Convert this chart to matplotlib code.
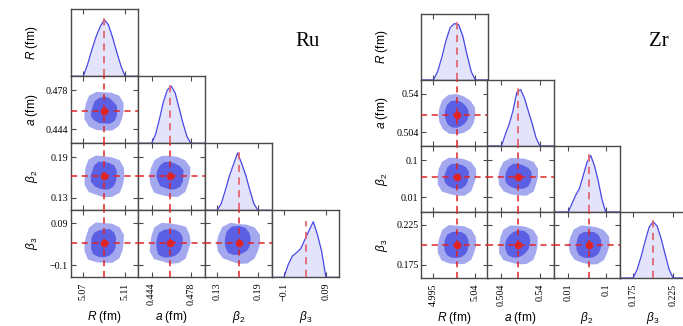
import numpy as np
import matplotlib
matplotlib.use('Agg')
import matplotlib.pyplot as plt

plt.rcParams['mathtext.fontset'] = 'custom'
plt.rcParams['mathtext.rm'] = 'Liberation Sans'
plt.rcParams['mathtext.it'] = 'Liberation Sans:italic'
plt.rcParams['font.family'] = 'Liberation Sans'

W, H = 683, 326

param_labels = [r"$R$ (fm)", r"$a$ (fm)", r"$\beta_2$", r"$\beta_3$"]
pairs = [(1, 0), (2, 0), (2, 1), (3, 0), (3, 1), (3, 2)]

# ---- Ru ----
ru_true = [5.09, 0.46, 0.162, 0.0]
ru_lims = [(5.058, 5.122), (0.432, 0.490), (0.1115, 0.2105), (-0.1555, 0.148)]
ru_ticks = [[5.07, 5.11], [0.444, 0.478], [0.13, 0.19], [-0.1, 0.09]]
ru_ticklabels = [["5.07", "5.11"], ["0.444", "0.478"], ["0.13", "0.19"], ["\u22120.1", "0.09"]]
ru_outer = [0.0185, 0.017, 0.030, 0.090]
ru_inner = [0.013, 0.012, 0.021, 0.062]
ru_marg = [
    [0, 0.20, 0.45, 0.68, 0.86, 0.99, 0.90, 0.68, 0.42, 0.18, 0],
    [0, 0.15, 0.42, 0.72, 0.93, 1.00, 0.88, 0.62, 0.35, 0.12, 0],
    [0, 0.12, 0.35, 0.60, 0.80, 1.00, 0.82, 0.62, 0.36, 0.12, 0],
    [0, 0.22, 0.37, 0.43, 0.50, 0.66, 0.82, 0.97, 0.74, 0.45, 0],
]
ru_shape_outer = [
    [1.00, 1.08, 1.10, 1.00, 0.95, 1.05, 1.10, 1.02, 1.02, 1.10, 1.12, 1.05, 1.00, 1.08, 1.08, 1.00],
    [1.05, 1.10, 1.12, 1.00, 0.98, 1.10, 1.15, 1.05, 1.00, 1.10, 1.12, 1.00, 1.05, 1.10, 1.15, 1.05],
    [1.02, 1.12, 1.10, 1.02, 1.00, 1.08, 1.12, 1.05, 1.05, 1.08, 1.15, 1.02, 1.02, 1.10, 1.10, 1.00],
    [1.00, 1.10, 1.12, 1.05, 1.00, 1.12, 1.10, 1.00, 1.02, 1.10, 1.18, 1.05, 1.00, 1.08, 1.10, 1.02],
    [1.05, 1.08, 1.15, 1.00, 0.98, 1.10, 1.12, 1.02, 1.00, 1.12, 1.15, 1.00, 1.05, 1.10, 1.12, 1.00],
    [1.05, 1.12, 1.10, 1.00, 0.95, 1.10, 1.15, 1.08, 1.10, 1.12, 1.10, 1.00, 1.05, 1.12, 1.10, 1.02],
]
ru_shape_inner = [
    [0.95, 1.00, 0.95, 1.00, 1.05, 1.00, 1.00, 0.90, 0.95, 1.05, 1.00, 0.95, 0.90, 1.00, 1.05, 1.00],
    [0.90, 1.00, 1.05, 1.00, 1.00, 1.10, 1.05, 0.95, 1.00, 1.05, 1.00, 0.95, 0.95, 1.00, 1.00, 0.95],
    [0.95, 1.05, 1.00, 0.95, 1.00, 1.08, 1.05, 1.00, 1.00, 0.95, 1.00, 0.90, 0.95, 1.00, 1.05, 1.00],
    [0.85, 0.95, 1.05, 1.10, 1.00, 1.00, 1.05, 1.00, 0.95, 1.05, 1.15, 1.10, 1.05, 1.00, 0.95, 0.90],
    [0.90, 1.00, 1.05, 1.05, 1.00, 1.05, 1.10, 1.00, 1.00, 1.05, 1.20, 1.15, 1.05, 1.00, 0.95, 0.90],
    [0.80, 0.90, 1.05, 1.20, 1.25, 1.30, 1.20, 1.05, 1.00, 1.00, 1.05, 0.95, 0.85, 0.80, 0.80, 0.80],
]

# ---- Zr ----
zr_true = [5.02, 0.52, 0.06, 0.20]
zr_lims = [(4.982, 5.053), (0.491, 0.553), (-0.025, 0.134), (0.1585, 0.2412)]
zr_ticks = [[4.995, 5.04], [0.504, 0.54], [0.01, 0.1], [0.175, 0.225]]
zr_ticklabels = [["4.995", "5.04"], ["0.504", "0.54"], ["0.01", "0.1"], ["0.175", "0.225"]]
zr_outer = [0.020, 0.018, 0.045, 0.024]
zr_inner = [0.0135, 0.0125, 0.031, 0.0165]
zr_marg = [
    [0, 0.15, 0.40, 0.70, 0.93, 1.00, 0.98, 0.78, 0.45, 0.15, 0],
    [0, 0.20, 0.38, 0.62, 0.95, 1.00, 0.85, 0.62, 0.40, 0.15, 0],
    [0, 0.15, 0.30, 0.42, 0.65, 0.88, 1.00, 0.82, 0.55, 0.22, 0],
    [0, 0.15, 0.38, 0.65, 0.90, 1.00, 0.92, 0.70, 0.42, 0.15, 0],
]
zr_shape_outer = [
    [1.00, 1.05, 1.05, 1.05, 1.10, 1.15, 1.10, 1.00, 0.98, 1.00, 1.05, 1.05, 1.00, 1.00, 1.02, 1.00],
    [1.05, 1.12, 1.10, 1.02, 1.00, 1.10, 1.12, 1.05, 1.02, 1.10, 1.12, 1.00, 1.02, 1.10, 1.10, 1.00],
    [1.02, 1.10, 1.12, 1.02, 1.00, 1.08, 1.12, 1.05, 1.05, 1.10, 1.10, 1.02, 1.00, 1.10, 1.12, 1.00],
    [1.05, 1.10, 1.12, 1.05, 1.00, 1.12, 1.10, 1.00, 1.02, 1.10, 1.15, 1.05, 1.00, 1.08, 1.10, 1.02],
    [1.00, 1.08, 1.10, 1.02, 1.00, 1.10, 1.12, 1.02, 1.00, 1.10, 1.12, 1.00, 1.02, 1.08, 1.10, 1.00],
    [1.10, 1.15, 1.10, 1.00, 0.98, 1.10, 1.15, 1.08, 1.10, 1.10, 1.10, 1.00, 1.02, 1.10, 1.12, 1.05],
]
zr_shape_inner = [
    [0.95, 1.00, 1.00, 1.05, 1.10, 1.15, 1.10, 1.00, 0.95, 0.95, 1.00, 1.00, 0.95, 0.90, 0.90, 0.92],
    [0.95, 1.05, 1.05, 1.00, 1.00, 1.08, 1.05, 0.95, 1.00, 1.05, 1.00, 0.95, 0.95, 1.00, 1.00, 0.95],
    [1.00, 1.05, 1.00, 0.95, 1.00, 1.08, 1.05, 1.00, 1.00, 1.05, 1.00, 0.95, 0.95, 1.00, 1.05, 1.00],
    [0.95, 1.00, 1.05, 1.05, 1.00, 1.05, 1.08, 1.02, 1.00, 1.05, 1.10, 1.05, 1.00, 1.00, 1.00, 0.95],
    [0.85, 0.95, 1.10, 1.15, 1.10, 1.05, 1.00, 1.00, 1.00, 1.05, 1.10, 1.05, 0.95, 0.85, 0.80, 0.82],
    [0.95, 1.00, 1.05, 1.05, 1.00, 1.05, 1.10, 1.00, 1.00, 1.05, 1.10, 1.05, 1.00, 1.00, 1.00, 0.95],
]

c_outer = "#a3a8ef"
c_inner = "#5b5fe4"
c_line = "#4747e6"
c_fill = "#e3e4fb"
c_red = "#e02424"
c_red_diag = "#e26670"
c_spine = "#4a4a4a"
tick_font = dict(family="Liberation Serif", size=7.2)
lab_size = 8.6


def panel(fig, left, top, w, h):
    return fig.add_axes([left / W, 1 - (top + h) / H, w / W, h / H])


def style_axis(ax):
    for sp in ax.spines.values():
        sp.set_color(c_spine)
        sp.set_linewidth(1.0)
    ax.tick_params(which="both", direction="in", length=3.5, width=0.8,
                   color=c_spine, top=True, right=True, pad=2)


def corner(fig, left, top, size_w, size_h, true, lims, ticks, ticklabels,
           outer, inner, marg, shape_outer, shape_inner, name, name_xy,
           ylab_x, xlab_y):
    n = len(true)
    angles = np.arange(16) * 2 * np.pi / 16
    for i in range(n):
        for j in range(i + 1):
            ax = panel(fig, left + j * size_w, top + i * size_h, size_w, size_h)
            style_axis(ax)
            ax.set_xlim(lims[j])
            ax.set_xticks(ticks[j])
            if i == j:
                xs = [lims[j][0]] + list(np.linspace(ticks[j][0], ticks[j][1], len(marg[j]))) + [lims[j][1]]
                ys = [0] + marg[j] + [0]
                ax.fill_between(xs, ys, color=c_fill, lw=0, zorder=1)
                ax.plot(xs, ys, color=c_line, lw=0.9, zorder=2)
                ax.plot([true[j], true[j]], [0, max(marg[j]) * 1.02], color=c_red_diag,
                        lw=1.3, dashes=(4, 3), zorder=3)
                ax.set_ylim(0, 1.17)
                ax.set_yticks([])
            else:
                k = pairs.index((i, j))
                ax.set_ylim(lims[i])
                ax.set_yticks(ticks[i])
                ro = np.array(shape_outer[k])
                ri = np.array(shape_inner[k])
                ax.fill(true[j] + outer[j] * ro * np.cos(angles),
                        true[i] + outer[i] * ro * np.sin(angles),
                        color=c_outer, lw=0, zorder=1)
                ax.fill(true[j] + inner[j] * ri * np.cos(angles),
                        true[i] + inner[i] * ri * np.sin(angles),
                        color=c_inner, lw=0, zorder=2)
                ax.axvline(true[j], color=c_red, lw=1.1, dashes=(4, 3), zorder=3)
                ax.axhline(true[i], color=c_red, lw=1.1, dashes=(4, 3), zorder=3)
                ax.plot(true[j], true[i], "o", color=c_red, ms=4.5, zorder=4)
            if j == 0 and i > 0:
                ax.set_yticklabels(ticklabels[i], fontdict=tick_font)
            else:
                ax.set_yticklabels([])
            if i == n - 1:
                ax.set_xticklabels(ticklabels[j], fontdict=tick_font, rotation=90)
                ax.tick_params(axis="x", pad=4)
                ax.set_xlabel(param_labels[j], fontsize=lab_size, va="center")
                ax.xaxis.set_label_coords(0.5, -(xlab_y - (top + n * size_h)) / size_h)
            else:
                ax.set_xticklabels([])
            if j == 0:
                ax.set_ylabel(param_labels[i], fontsize=lab_size, va="center")
                ax.yaxis.set_label_coords(-(left - ylab_x) / size_w, 0.5)
    fig.text(name_xy[0] / W, 1 - name_xy[1] / H, name, family="Liberation Serif",
             fontsize=15, ha="center", va="center")


fig = plt.figure(figsize=(W / 100, H / 100), dpi=100)

corner(fig, 70.7, 9.3, 67.0, 67.0, ru_true, ru_lims, ru_ticks, ru_ticklabels,
       ru_outer, ru_inner, ru_marg, ru_shape_outer, ru_shape_inner, "Ru", (308, 41),
       32, 317)
corner(fig, 421.3, 14.0, 66.2, 66.0, zr_true, zr_lims, zr_ticks, zr_ticklabels,
       zr_outer, zr_inner, zr_marg, zr_shape_outer, zr_shape_inner, "Zr", (659, 42),
       381.5, 318)

fig.savefig("out.png", dpi=100)
